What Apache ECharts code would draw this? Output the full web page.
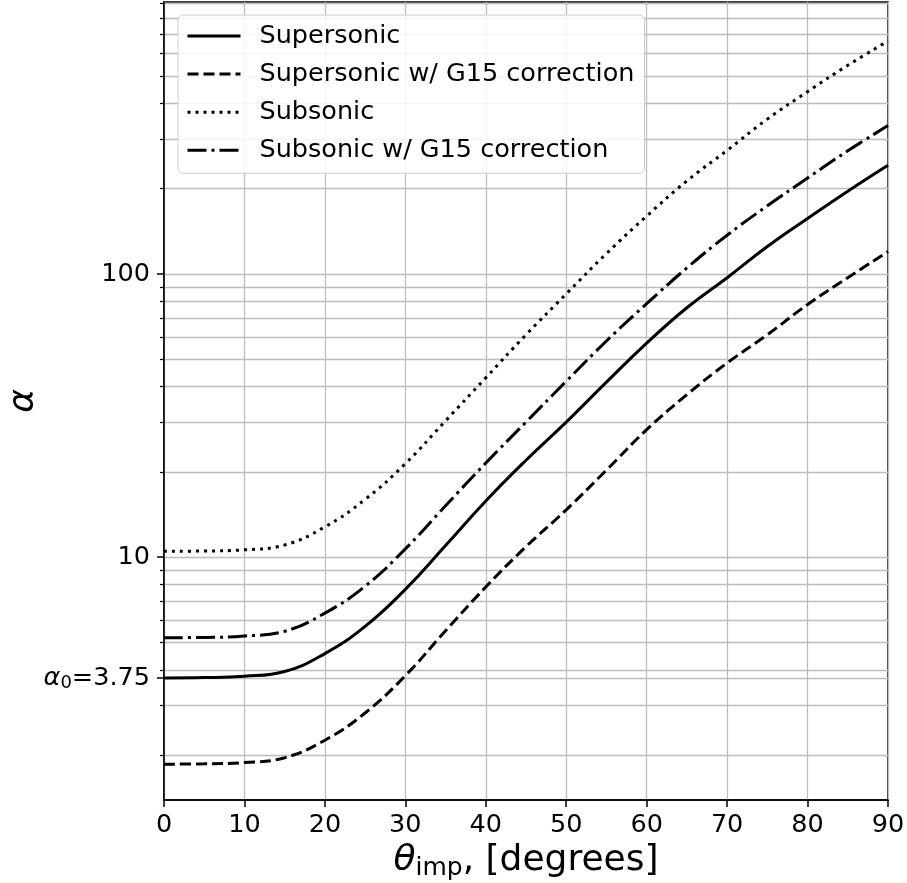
<!DOCTYPE html>
<html><head><meta charset="utf-8">
<script src="https://cdn.jsdelivr.net/npm/echarts@6/dist/echarts.min.js"></script>
<style>html,body{margin:0;padding:0;background:#fff}#c{width:907px;height:883px}</style>
</head><body><div id="c"></div>
<script>
// ---- data ----
const theta = [0,5,10,15,20,25,30,35,40,45,50,55,60,65,70,75,80,85,90];
const supersonic    = [3.75,3.76,3.8,3.95,4.57,5.7,7.7,11.0,15.8,22,30,41.5,57,76,97,125,157,196,242];
const supersonicG15 = [1.86,1.865,1.885,1.96,2.26,2.82,3.82,5.5,7.85,10.9,14.7,20.3,28.2,37.5,48.5,61,78,97,120];
const subsonic      = [10.5,10.52,10.62,11.05,12.8,16.0,21.4,30.3,43,61,85,118,160,213,273,352,440,545,664];
const subsonicG15   = [5.2,5.21,5.27,5.48,6.35,7.9,10.7,15.2,21.5,30,41.8,58,78.5,105,137,174,218,272,334];
const seriesNames = ['Supersonic','Supersonic w/ G15 correction','Subsonic','Subsonic w/ G15 correction'];
const majorYTicks = [3.75, 10, 100];
const minorYTicks = [2,3,4,5,6,7,8,9,20,30,40,50,60,70,80,90,200,300,400,500,600,700,800,900];
const alpha0 = 3.75;

const FONT = 'DejaVu Sans';
const FS = 25.5;
const GRID_COLOR = '#bdbdbd';
const pairs = a => theta.map((t,i)=>[t,a[i]]);
const seriesData = [supersonic, supersonicG15, subsonic, subsonicG15];
const dashes = ['solid', [11,5], [3,5], [19,5,3,5]];
const T = (extra) => Object.assign({fontFamily:FONT, fontSize:FS, lineHeight:29, color:'#000'}, extra||{});

const chart = echarts.init(document.getElementById('c'), null, {renderer:'canvas'});
const yBase = {
  type:'log', logBase:10, min:1.39, max:912, position:'left', offset:0,
  minorTick:{show:false}, minorSplitLine:{show:false}
};
chart.setOption({
  animation:false,
  backgroundColor:'#fff',
  grid:{left:164, right:19, top:2, bottom:83, containLabel:false, outerBoundsMode:'none',
        show:true, borderColor:'#000', borderWidth:1.5, backgroundColor:'transparent'},
  legend:{
    left:178, top:15, orient:'vertical',
    itemWidth:53, itemHeight:14, itemGap:12.1,
    padding:[8,10,10,8],
    backgroundColor:'rgba(255,255,255,0.85)', borderColor:'#cccccc', borderWidth:1, borderRadius:5,
    itemStyle:{color:'rgba(0,0,0,0)', borderWidth:0, opacity:0},
    lineStyle:{width:3},
    textStyle:{fontFamily:FONT, fontSize:FS, color:'#000', lineHeight:25, padding:[0,0,0,14]},
    data:seriesNames
  },
  xAxis:{
    type:'value', min:0, max:90, interval:10,
    name:'{t|θ}{s|imp}{n|, [degrees]}', nameLocation:'middle', nameGap:41, nameMoveOverlap:false,
    nameTextStyle:{rich:{
      t:{fontFamily:FONT, fontStyle:'italic', fontSize:36, lineHeight:40, color:'#000'},
      s:{fontFamily:FONT, fontSize:25, lineHeight:22, verticalAlign:'bottom', color:'#000'},
      n:{fontFamily:FONT, fontSize:36, lineHeight:40, color:'#000'}
    }},
    axisLine:{show:true, lineStyle:{color:'#000', width:1.5}},
    axisTick:{show:true, length:7, lineStyle:{color:'#000', width:1.5}},
    axisLabel:{fontFamily:FONT, fontSize:FS, color:'#000', margin:11,
      formatter:v => '{n|' + v + '}', rich:{n:T()}},
    splitLine:{show:true, lineStyle:{color:GRID_COLOR, width:1.3}}
  },
  yAxis:[
    Object.assign({}, yBase, {
      name:'α', nameLocation:'middle', nameRotate:90, nameGap:122, nameMoveOverlap:false,
      nameTextStyle:{fontFamily:FONT, fontStyle:'italic', fontSize:36, color:'#000'},
      axisLine:{show:true, lineStyle:{color:'#000', width:1.5}},
      axisTick:{show:true, length:7, customValues:majorYTicks, lineStyle:{color:'#000', width:1.5}},
      axisLabel:{
        customValues:majorYTicks, fontFamily:FONT, fontSize:FS, color:'#000', margin:14,
        formatter:v => Math.abs(v-alpha0)<1e-6 ? '{a|α}{s|0}{n|=3.75}' : '{n|' + Math.round(v) + '}',
        rich:{
          a:T({fontStyle:'italic'}),
          s:{fontFamily:FONT, fontSize:18, lineHeight:18, verticalAlign:'bottom', color:'#000'},
          n:T()
        }
      },
      splitLine:{show:true, lineStyle:{color:GRID_COLOR, width:1.3}}
    }),
    Object.assign({}, yBase, {
      axisLine:{show:false},
      axisTick:{show:true, length:4, customValues:minorYTicks, lineStyle:{color:'#000', width:1.2}},
      axisLabel:{show:false},
      splitLine:{show:true, lineStyle:{color:GRID_COLOR, width:1.3}}
    })
  ],
  series: seriesNames.map((n,i)=>({
    name:n, type:'line', yAxisIndex:0, data:pairs(seriesData[i]),
    symbol:'none', showSymbol:false, smooth:0.45,
    color:'#000',
    lineStyle:{color:'#000', width:3, type:dashes[i], cap:'butt'},
    z:5
  }))
});
</script></body></html>
